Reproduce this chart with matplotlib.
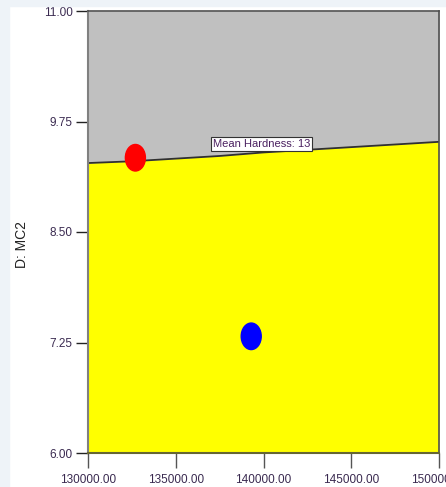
import numpy as np
import matplotlib
matplotlib.use("Agg")
from matplotlib import pyplot as plt
from matplotlib.patches import Ellipse, Rectangle

# boundary of the contour (Mean Hardness = 13)
edge_x = [130000, 132500, 135000, 137500, 140000, 142500, 145000, 147500, 150000]
edge_y = [9.28, 9.30, 9.33, 9.36, 9.40, 9.43, 9.46, 9.49, 9.52]

# design points
pt_x = [132700, 139300]
pt_y = [9.34, 7.32]
pt_colors = ["#ff0000", "#0000ff"]

x_ticks = [130000, 135000, 140000, 145000, 150000]
y_ticks = [6.00, 7.25, 8.50, 9.75, 11.00]

plt.rcParams["font.family"] = ["Liberation Sans", "DejaVu Sans"]

fig = plt.figure(figsize=(4.46, 4.87), dpi=100, facecolor="white")
# light frame strip on top and left
fig.patches.append(Rectangle((0, 0), 9 / 446, 1, transform=fig.transFigure,
                             color="#eef3f8", zorder=0))
fig.patches.append(Rectangle((0, 1 - 6 / 487), 1, 6 / 487, transform=fig.transFigure,
                             color="#eef3f8", zorder=0))

ax = fig.add_axes([88 / 446, 1 - 453 / 487, 351 / 446, 442 / 487])
ax.set_xlim(130000, 150000)
ax.set_ylim(6, 11)

ax.fill_between(edge_x, edge_y, 11, color="#c0c0c0", lw=0)
ax.fill_between(edge_x, 6, edge_y, color="#ffff00", lw=0)
ax.plot(edge_x, edge_y, color="#303030", lw=1.3)

w = 1140
h = 0.30
for x, y, c in zip(pt_x, pt_y, pt_colors):
    ax.add_patch(Ellipse((x, y), w, h, color=c, zorder=5))

ax.text(139900, 9.495, "Mean Hardness: 13", fontsize=8, color="#4a2060",
        ha="center", va="center",
        bbox=dict(boxstyle="square,pad=0.15", fc="white", ec="#333333", lw=0.8),
        zorder=6)

ax.set_xticks(x_ticks)
ax.set_xticklabels([f"{v:.2f}" for v in x_ticks])
ax.set_yticks(y_ticks)
ax.set_yticklabels([f"{v:.2f}" for v in y_ticks])
ax.tick_params(axis="x", length=11, width=1, color="#555555", labelsize=8.5,
               labelcolor="#3a2a50", pad=4)
ax.tick_params(axis="y", length=9, width=1, color="#222222", labelsize=8.5,
               labelcolor="#3a2a50", pad=2)

for side in ["top", "right"]:
    ax.spines[side].set_color("#505050")
    ax.spines[side].set_linewidth(1.2)
ax.spines["left"].set_color("#808080")
ax.spines["left"].set_linewidth(1.5)
ax.spines["bottom"].set_color("#666633")
ax.spines["bottom"].set_linewidth(1.5)

fig.text(22 / 446, 1 - 245 / 487, "D: MC2", rotation=90, fontsize=10,
         color="#222222", ha="center", va="center")

fig.savefig("out.png", dpi=100, facecolor=fig.get_facecolor())
